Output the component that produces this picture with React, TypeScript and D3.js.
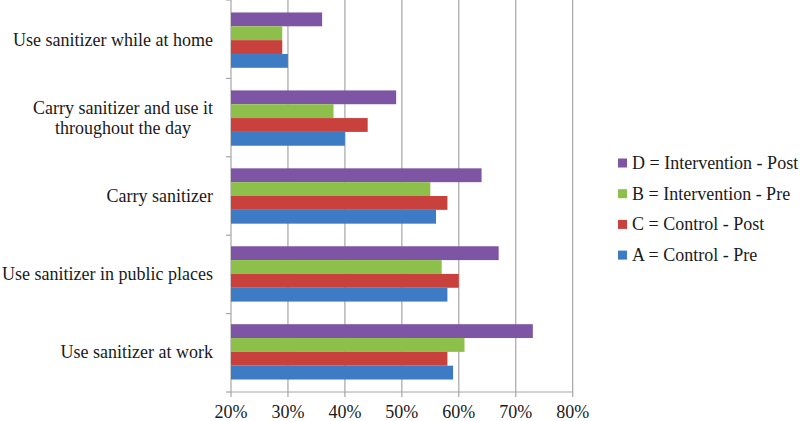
import React from "react";
import * as d3 from "d3";

const categories: string[][] = [
  ["Use sanitizer while at home"],
  ["Carry sanitizer and use it", "throughout the day"],
  ["Carry sanitizer"],
  ["Use sanitizer in public places"],
  ["Use sanitizer at work"],
];
const seriesNames = [
  "D = Intervention - Post",
  "B = Intervention - Pre",
  "C = Control - Post",
  "A = Control - Pre",
];
const seriesColors = ["#7d55a4", "#8dbf4b", "#c8413d", "#3d7cc4"];
const seriesD = [36, 49, 64, 67, 73];
const seriesB = [29, 38, 55, 57, 61];
const seriesC = [29, 44, 58, 60, 58];
const seriesA = [30, 40, 56, 58, 59];
const xTicks = [20, 30, 40, 50, 60, 70, 80];

const FONT = "'Liberation Serif', 'DejaVu Serif', serif";
const FS = 18;

function measure(text: string, size: number): number {
  if (typeof document === "undefined") return text.length * size * 0.45;
  const c = document.createElement("canvas");
  const ctx = c.getContext("2d");
  if (!ctx) return text.length * size * 0.45;
  ctx.font = `${size}px ${FONT}`;
  return ctx.measureText(text).width;
}

export default function App() {
  const W = 800;
  const H = 421;
  const left = 231;
  const right = 572.7;
  const top = 0;
  const bottom = 392;
  const values = [seriesD, seriesB, seriesC, seriesA];

  const x = d3.scaleLinear().domain([20, 80]).range([left, right]);
  const y = d3
    .scaleBand<number>()
    .domain(d3.range(categories.length))
    .range([top, bottom])
    .paddingInner(0.29)
    .paddingOuter(0.16);
  const yInner = d3
    .scaleBand<number>()
    .domain(d3.range(seriesNames.length))
    .range([0, y.bandwidth()]);
  const step = (bottom - top) / categories.length;
  const bounds = d3.range(categories.length + 1).map((i) => top + i * step);
  const labelRight = 213;
  const grid = "#a6a6a6";
  const textColor = "#1a1a1a";

  return (
    <svg
      width={W}
      height={H}
      style={{ position: "absolute", left: 0, top: 0, background: "#fff" }}
      fontFamily={FONT}
    >
      <rect x={0} y={0} width={W} height={H} fill="#fff" />
      {xTicks.map((t) => (
        <line key={"g" + t} x1={x(t)} x2={x(t)} y1={top} y2={bottom + 5} stroke={grid} strokeWidth={1.2} />
      ))}
      <line x1={left} x2={right} y1={bottom} y2={bottom} stroke={grid} strokeWidth={1.2} />
      {bounds.map((b, i) => (
        <line key={"yt" + i} x1={left - 5} x2={left} y1={b} y2={b} stroke={grid} strokeWidth={1.2} />
      ))}
      {categories.map((cat, ci) =>
        values.map((vals, si) => (
          <rect
            key={`b${ci}-${si}`}
            x={x(20)}
            y={(y(ci) as number) + (yInner(si) as number)}
            width={x(vals[ci]) - x(20)}
            height={yInner.bandwidth()}
            fill={seriesColors[si]}
          />
        ))
      )}
      {categories.map((lines, ci) => {
        const cy = (y(ci) as number) + y.bandwidth() / 2;
        const maxW = Math.max(...lines.map((l) => measure(l, FS)));
        const cx = labelRight - maxW / 2;
        const lh = 20;
        return lines.map((l, li) => (
          <text
            key={`l${ci}-${li}`}
            x={cx}
            y={cy + (li - (lines.length - 1) / 2) * lh}
            textAnchor="middle"
            dominantBaseline="central"
            fontSize={FS}
            fill={textColor}
          >
            {l}
          </text>
        ));
      })}
      {xTicks.map((t) => (
        <text
          key={"xt" + t}
          x={x(t)}
          y={412}
          textAnchor="middle"
          dominantBaseline="central"
          fontSize={FS}
          fill={textColor}
        >
          {t}%
        </text>
      ))}
      {seriesNames.map((s, i) => (
        <g key={"lg" + i} transform={`translate(618, ${163 + i * 30.7})`}>
          <rect x={0} y={-4.5} width={9} height={9} fill={seriesColors[i]} />
          <text x={14} y={0} dominantBaseline="central" fontSize={FS} fill={textColor}>
            {s}
          </text>
        </g>
      ))}
    </svg>
  );
}
